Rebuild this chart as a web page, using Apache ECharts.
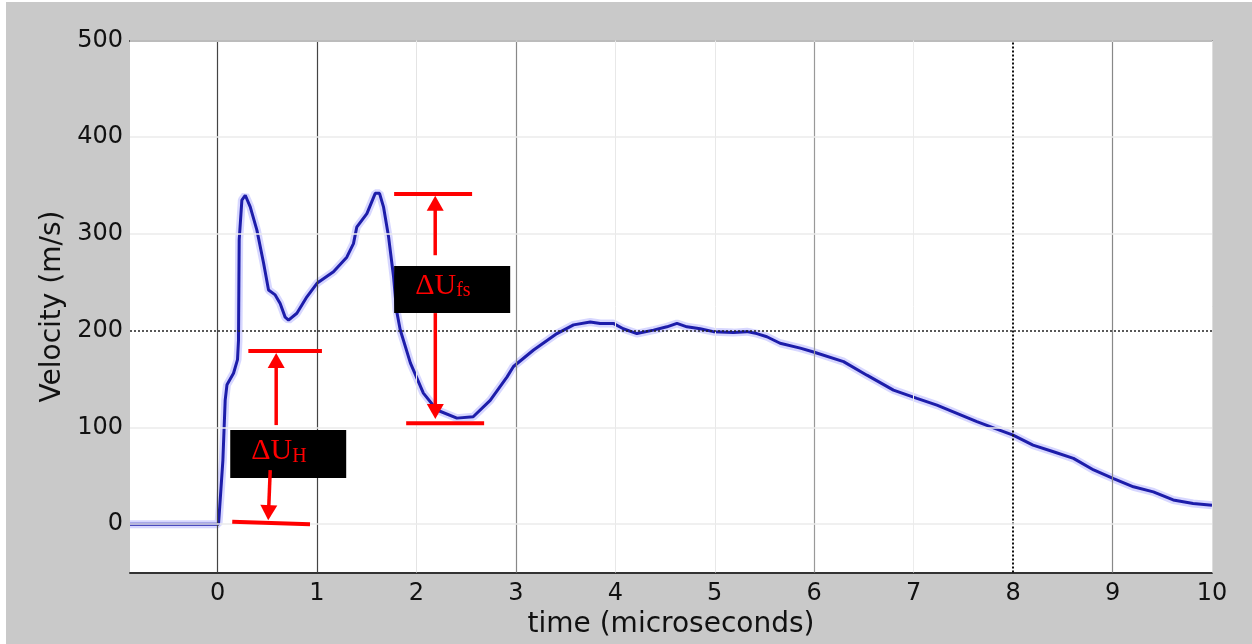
<!DOCTYPE html>
<html><head><meta charset="utf-8">
<script src="https://cdn.jsdelivr.net/npm/echarts@6/dist/echarts.min.js"></script>
<style>html,body{margin:0;padding:0;background:#fff;width:1252px;height:644px;overflow:hidden}
#c{position:absolute;left:6px;top:2px;width:1246px;height:642px}</style></head>
<body><div id="c"></div><script>
const timeUs = [-0.88,0.01,0.027,0.054,0.077,0.095,0.161,0.201,0.211,0.218,0.245,0.279,0.329,0.396,0.463,0.513,0.58,0.63,0.68,0.714,0.798,0.899,1.0,1.166,1.30,1.367,1.40,1.502,1.586,1.629,1.669,1.72,1.77,1.80,1.837,1.94,2.07,2.206,2.407,2.571,2.742,2.91,2.976,3.178,3.413,3.58,3.748,3.848,3.98,4.08,4.217,4.384,4.519,4.62,4.72,4.853,4.987,5.188,5.323,5.423,5.524,5.657,5.86,5.993,6.295,6.53,6.797,7.033,7.234,7.435,7.636,7.87,8.0,8.2,8.406,8.607,8.81,9.01,9.21,9.41,9.61,9.81,10.0];
const velocity = [0,0,25,66,128,144,156,170,190,294,335,340,328,304,270,242,237,228,214,211,218,235,249,261,276,290,307,321,342,342,328,297,256,221,201,166.5,135.5,118,109.6,111,128,152,163,180,197,206,209,207.5,207.5,202,197,200.6,204,207.5,204,202,199,198,199,197,193.7,187,182,178,168,154,138.6,130,123,114.5,106,97,92,81.7,74.8,68,56,47,38.6,33.4,25,21.4,19.6];
const xTickValues = [0,1,2,3,4,5,6,7,8,9,10];
const yTickValues = [0,100,200,300,400,500];
const xRange = [-0.88, 10];
const yRange = [-50, 500];

const chart = echarts.init(document.getElementById('c'), null, {renderer:'canvas'});
const tickFont = {fontFamily:'DejaVu Sans', fontSize:24, color:'#111'};
const nameFont = {fontFamily:'DejaVu Sans', fontSize:28, color:'#111'};
const vGridStyle = {0:{color:'#444',width:1.2,type:'solid'},1:{color:'#444',width:1.2,type:'solid'},2:{color:'#e4e4e4',width:1,type:'solid'},3:{color:'#888',width:1.2,type:'solid'},4:{color:'#e8e8e8',width:1,type:'solid'},5:{color:'#e8e8e8',width:1,type:'solid'},6:{color:'#999',width:1.2,type:'solid'},7:{color:'#ececec',width:1,type:'solid'},8:{color:'#111',width:2,type:[2,2]},9:{color:'#888',width:1.2,type:'solid'},10:{color:'#ddd',width:1,type:'solid'}};
const hGrid = yTickValues.map(v => v===200 ? {yAxis:v, lineStyle:{color:'#222',width:1.5,type:[2,2]}} : {yAxis:v, lineStyle:{color:'#ebebeb',width:1.5,type:'solid'}});
const vGrid = xTickValues.map(v => ({xAxis:v, lineStyle:vGridStyle[v]}));
const pts = timeUs.map((t,i)=>[t, velocity[i]]);

chart.setOption({
  animation:false,
  backgroundColor:'#c9c9c9',
  grid:{left:124, right:40, top:38.5, bottom:71.5, show:true, backgroundColor:'#fff', borderWidth:0},
  xAxis:[
    {type:'value', min:xRange[0], max:xRange[1], position:'bottom',
     axisLine:{show:true, onZero:false, lineStyle:{color:'#333', width:2}}, axisTick:{show:false}, splitLine:{show:false},
     axisLabel:Object.assign({customValues:xTickValues, margin:9}, tickFont),
     name:'time (microseconds)', nameLocation:'middle', nameGap:36, nameTextStyle:nameFont},
    {type:'value', min:xRange[0], max:xRange[1], position:'top',
     axisLine:{show:true, onZero:false, lineStyle:{color:'#333', width:2}}, axisTick:{show:false}, splitLine:{show:false}, axisLabel:{show:false}}
  ],
  yAxis:{type:'value', min:yRange[0], max:yRange[1],
     axisLine:{show:false}, axisTick:{show:false}, splitLine:{show:false},
     axisLabel:Object.assign({customValues:yTickValues, margin:7}, tickFont),
     name:'Velocity (m/s)', nameLocation:'middle', nameGap:60, nameTextStyle:nameFont},
  series:[
    {type:'line', data:[], z:1, silent:true, symbol:'none',
     markLine:{silent:true, symbol:'none', label:{show:false}, animation:false, data: vGrid.concat(hGrid)}},
    {type:'line', data:pts, z:2, silent:true, symbol:'none', lineStyle:{color:'rgba(110,110,255,0.28)', width:8}},
    {type:'line', data:pts, z:3, silent:true, symbol:'none', lineStyle:{color:'#1d1daa', width:3}}
  ]
});

function P(x,y){ return chart.convertToPixel({xAxisIndex:0, yAxisIndex:0}, [x,y]); }
const RED = '#ff0000';
const els = [];
function bar(x0,y0,x1,y1){ const a=P(x0,y0), b=P(x1,y1); els.push({type:'line', z:100, shape:{x1:a[0],y1:a[1],x2:b[0],y2:b[1]}, style:{stroke:RED, lineWidth:4}}); }
function box(x0,y0,x1,y1){ const a=P(x0,y0), b=P(x1,y1); els.push({type:'rect', z:99, shape:{x:a[0],y:a[1],width:b[0]-a[0],height:b[1]-a[1]}, style:{fill:'#000'}}); }
function arrow(x0,y0,x1,y1){
  const a=P(x0,y0), b=P(x1,y1); const dx=b[0]-a[0], dy=b[1]-a[1]; const L=Math.hypot(dx,dy); const ux=dx/L, uy=dy/L; const nx=-uy, ny=ux;
  const hl=15, hw=8.5;
  els.push({type:'line', z:101, shape:{x1:a[0],y1:a[1],x2:b[0]-ux*10,y2:b[1]-uy*10}, style:{stroke:RED, lineWidth:3.5}});
  els.push({type:'polygon', z:101, shape:{points:[[b[0],b[1]],[b[0]-ux*hl+nx*hw,b[1]-uy*hl+ny*hw],[b[0]-ux*hl-nx*hw,b[1]-uy*hl-ny*hw]]}, style:{fill:RED}});
}
function label(x,yBase,main,sub){
  const p=P(x,yBase);
  els.push({type:'text', z:102, x:p[0], y:p[1]-8.5, style:{text:'{a|'+main+'}{b|'+sub+'}', align:'left', verticalAlign:'middle',
    rich:{a:{fontFamily:'Liberation Serif', fontSize:30, lineHeight:30, fill:RED, verticalAlign:'bottom'},
          b:{fontFamily:'Liberation Serif', fontSize:20, lineHeight:20, fill:RED, verticalAlign:'bottom'}}}});
}
// Delta U_H annotation
box(0.128,97.2,1.294,47.6);
bar(0.31,179,1.05,179);
arrow(0.59,102.4,0.59,177);
arrow(0.53,55.8,0.51,4.1);
bar(0.148,2.5,0.93,0);
label(0.339,66.2,'ΔU','H');
// Delta U_fs annotation
box(1.776,266.8,2.943,218.2);
bar(1.776,341.3,2.56,341.3);
arrow(2.189,278,2.189,339.5);
arrow(2.19,218.2,2.19,108.6);
bar(1.897,104.4,2.681,104.4);
label(1.988,237.5,'ΔU','fs');
chart.setOption({graphic:{elements:els}});
</script></body></html>
